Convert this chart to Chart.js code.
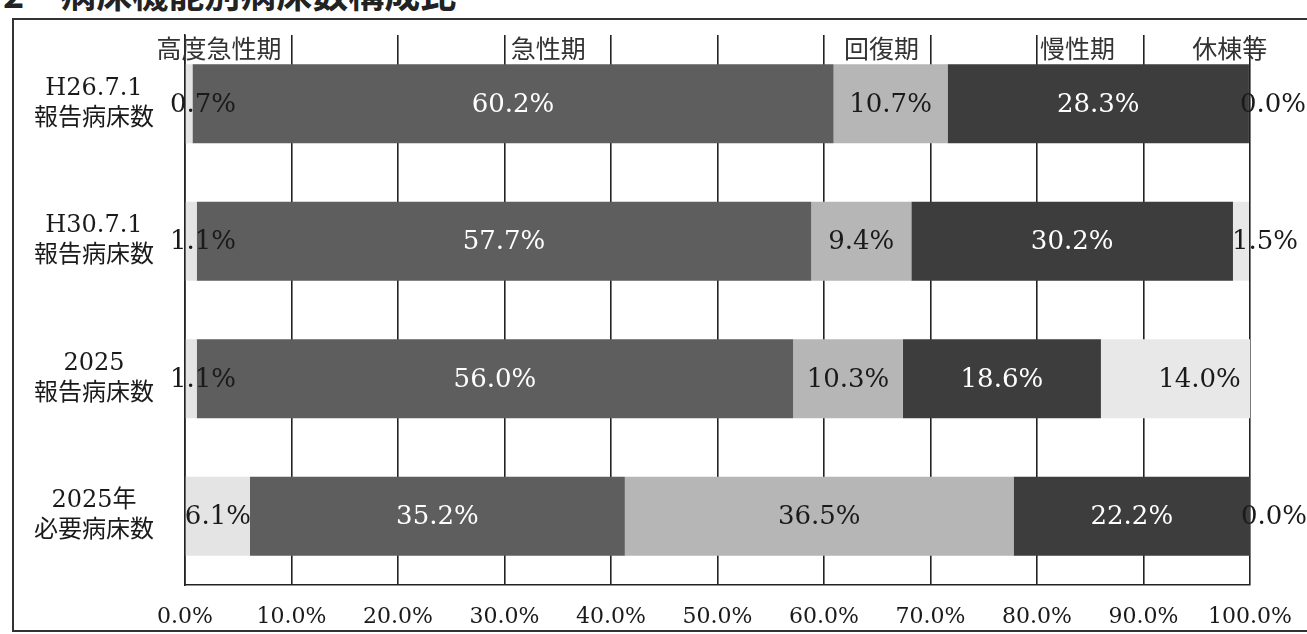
<!DOCTYPE html>
<html>
<head>
<meta charset="utf-8">
<script src="https://cdn.jsdelivr.net/npm/chart.js@4"></script>
<style>
  html, body { margin: 0; padding: 0; background: #fff; width: 1307px; height: 634px; overflow: hidden; }
  #title { position: absolute; left: 3px; top: -26px; font: bold 36px/36px "Noto Sans CJK JP", sans-serif; color: #222; white-space: pre; }
  #frame { position: absolute; left: 12px; top: 18px; width: 1310px; height: 614px; border: 2px solid #333; box-sizing: border-box; }
  #wrap { position: absolute; left: 0; top: 0; width: 1307px; height: 634px; }
</style>
</head>
<body>
<div id="title">2　病床機能別病床数構成比</div>
<div id="frame"></div>
<div id="wrap"><canvas id="c" width="1307" height="634"></canvas></div>
<script>
// ---- data ----
const categories = [
  ["H26.7.1", "報告病床数"],
  ["H30.7.1", "報告病床数"],
  ["2025", "報告病床数"],
  ["2025年", "必要病床数"]
];
const seriesNames = ["高度急性期", "急性期", "回復期", "慢性期", "休棟等"];
const highAcute = [0.7, 1.1, 1.1, 6.1];
const acute     = [60.2, 57.7, 56.0, 35.2];
const recovery  = [10.7, 9.4, 10.3, 36.5];
const chronic   = [28.3, 30.2, 18.6, 22.2];
const closedBeds = [0.0, 1.5, 14.0, 0.0];
const xTicks = [0, 10, 20, 30, 40, 50, 60, 70, 80, 90, 100];

// ---- styles ----
const fills = ["#e4e4e4", "#5e5e5e", "#b6b6b6", "#3d3d3d", "#e8e8e8"];
const labelColors = ["#1a1a1a", "#ffffff", "#1a1a1a", "#ffffff", "#1a1a1a"];
const headerPos = [3.2, 34.1, 65.4, 83.8, 98.1]; // header text centres, in axis %

const valueLabels = {
  id: 'valueLabels',
  afterDatasetsDraw(chart) {
    const ctx = chart.ctx;
    ctx.save();
    ctx.font = '26px "DejaVu Serif", serif';
    ctx.textBaseline = 'middle';
    ctx.textAlign = 'center';
    chart.data.datasets.forEach((ds, di) => {
      const meta = chart.getDatasetMeta(di);
      meta.data.forEach((bar, i) => {
        const v = ds.data[i];
        const txt = v.toFixed(1) + '%';
        const w = ctx.measureText(txt).width;
        let cx = (bar.x + bar.base) / 2;
        if (di === 0) cx = Math.max(cx, chart.chartArea.left - 15 + w / 2);
        if (di === 4) cx += 24;
        ctx.fillStyle = labelColors[di];
        ctx.fillText(txt, cx, bar.y + 1);
      });
    });
    ctx.restore();
  }
};

const headerLabels = {
  id: 'headerLabels',
  afterDraw(chart) {
    const ctx = chart.ctx;
    const xs = chart.scales.x;
    ctx.save();
    ctx.font = '25px "Noto Sans CJK JP", sans-serif';
    ctx.textBaseline = 'middle';
    ctx.textAlign = 'center';
    ctx.fillStyle = '#333';
    seriesNames.forEach((n, i) => {
      ctx.fillText(n, xs.getPixelForValue(headerPos[i]), chart.chartArea.top + 13);
    });
    ctx.restore();
  }
};

const series = [highAcute, acute, recovery, chronic, closedBeds];
new Chart(document.getElementById('c'), {
  type: 'bar',
  data: {
    labels: categories,
    datasets: series.map((d, i) => ({
      label: seriesNames[i],
      data: d,
      backgroundColor: fills[i],
      borderWidth: 0,
      barPercentage: 0.575,
      categoryPercentage: 1.0
    }))
  },
  options: {
    indexAxis: 'y',
    responsive: false,
    devicePixelRatio: 1,
    animation: false,
    layout: { padding: { left: 0, right: 57, top: 35, bottom: 0 } },
    plugins: { legend: { display: false }, tooltip: { enabled: false } },
    scales: {
      x: {
        stacked: true,
        min: 0, max: 100,
        afterBuildTicks(scale) { scale.ticks = xTicks.map(v => ({ value: v })); },
        afterFit(scale) { scale.height = 49; scale.paddingLeft = 0; scale.paddingRight = 0; },
        grid: { color: '#222', lineWidth: 1.6, drawTicks: false },
        border: { display: true, color: '#222', width: 1.6 },
        ticks: {
          padding: 19,
          color: '#1a1a1a',
          font: { family: '"DejaVu Serif", serif', size: 22 },
          callback: v => Number(v).toFixed(1) + '%',
          maxRotation: 0
        }
      },
      y: {
        stacked: true,
        afterFit(scale) { scale.width = 185; scale.paddingTop = 0; scale.paddingBottom = 0; },
        grid: { display: false },
        border: { display: true, color: '#222', width: 1.6 },
        ticks: {
          crossAlign: 'center',
          padding: 23,
          color: '#1a1a1a',
          font: { family: '"DejaVu Serif", "Noto Sans CJK JP", serif', size: 24, lineHeight: 1.25 }
        }
      }
    }
  },
  plugins: [valueLabels, headerLabels]
});
</script>
</body>
</html>
